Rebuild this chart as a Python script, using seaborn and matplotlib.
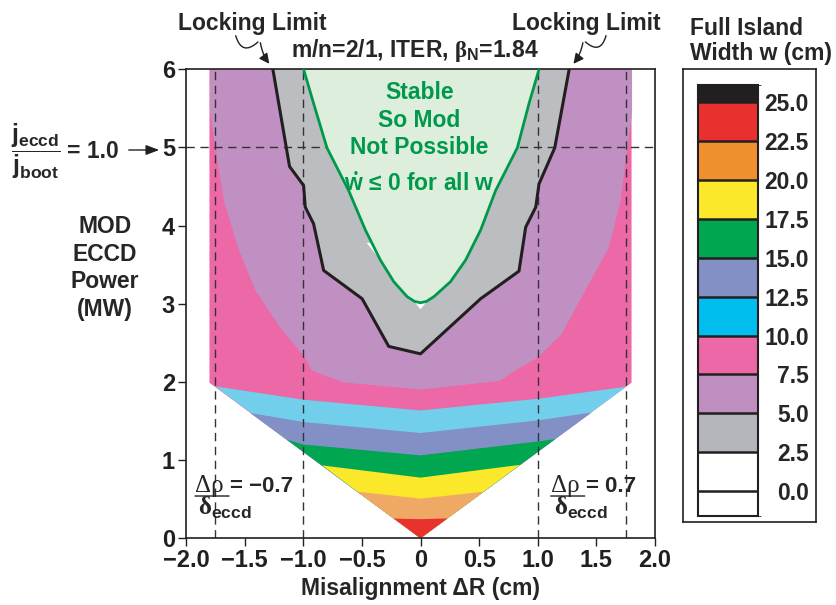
import matplotlib
matplotlib.use("Agg")
import matplotlib.pyplot as plt
import matplotlib.colors as mcolors
import seaborn as sns

# ---- data ----
# V-shaped region (w > 7.5 cm) outer corners and apex
pink_x = [-1.80, -1.80, 0.0, 1.80, 1.80]
pink_y = [6.0, 1.99, 0.0, 1.99, 6.0]

# upper edge of each band inside the V (left edge -> centre -> right edge)
cyan_x = [-1.752, -1.0, 0.0, 1.01, 1.755]
cyan_y = [1.944, 1.773, 1.635, 1.786, 1.940]
blue_x = [-1.453, -1.0, 0.0, 1.01, 1.46]
blue_y = [1.603, 1.488, 1.347, 1.51, 1.61]
green_x = [-1.14, -1.0, 0.0, 1.01, 1.15]
green_y = [1.262, 1.20, 1.061, 1.24, 1.27]
yellow_x = [-0.84, 0.0, 0.85]
yellow_y = [0.933, 0.776, 0.94]
orange_x = [-0.541, 0.0, 0.54]
orange_y = [0.597, 0.507, 0.597]
red_x = [-0.228, 0.0, 0.23]
red_y = [0.252, 0.245, 0.254]

# lower edge of the 5-7.5 cm (purple) zone
purple_x = [-1.80, -1.74, -1.68, -1.56, -1.41, -1.20, -1.0, -0.93, -0.66, 0.0,
            0.67, 0.80, 1.0, 1.20, 1.33, 1.60, 1.70, 1.80]
purple_y = [5.45, 4.88, 4.32, 3.72, 3.17, 2.70, 2.34, 2.15, 2.0, 1.91,
            2.02, 2.15, 2.32, 2.62, 2.98, 3.72, 4.30, 5.45]

# locking limit (black line)
lock_x = [-1.259, -1.117, -0.997, -0.983, -0.912, -0.826, -0.498, -0.271, 0.0,
          0.513, 0.840, 0.897, 0.983, 1.011, 1.145, 1.268]
lock_y = [6.0, 4.757, 4.514, 4.237, 4.024, 3.427, 3.065, 2.455, 2.36,
          3.065, 3.418, 3.98, 4.237, 4.535, 4.996, 6.0]

# stable boundary (green line)
stab_x = [-0.997, -0.912, -0.798, -0.613, -0.470, -0.342, -0.228, -0.114, -0.05, 0.0,
          0.05, 0.114, 0.256, 0.385, 0.513, 0.641, 0.826, 0.926, 1.011]
stab_y = [6.0, 5.565, 4.996, 4.45, 3.944, 3.56, 3.283, 3.091, 3.03, 3.014,
          3.03, 3.091, 3.283, 3.56, 3.944, 4.45, 4.996, 5.565, 6.0]

# thin w < 2.5 cm sliver just under the stable region
white_x = [-0.46, 0.0, 0.47]
white_y = [3.78, 2.93, 3.78]

dash_x = [-1.75, -1.0, 1.0, 1.75]
dash_y = 5.0

xticks = [-2.0, -1.5, -1.0, -0.5, 0.0, 0.5, 1.0, 1.5, 2.0]
xtick_labels = ["\u22122.0", "\u22121.5", "\u22121.0", "\u22120.5", "0", "0.5", "1.0", "1.5", "2.0"]
yticks = [0, 1, 2, 3, 4, 5, 6]

cbar_bounds = [-1.6, 0, 2.5, 5, 7.5, 10, 12.5, 15, 17.5, 20, 22.5, 25, 26.1]
cbar_ticks = [0, 2.5, 5, 7.5, 10, 12.5, 15, 17.5, 20, 22.5, 25]
cbar_colors = ["#ffffff", "#ffffff", "#b3b6bb", "#bf8fbf", "#ec68a6", "#00bfee",
               "#8290c6", "#00a650", "#fce82a", "#ef9030", "#e8302e", "#231f20"]

# ---- style ----
sns.set_style("ticks")
plt.rcParams["font.family"] = ["Liberation Sans", "DejaVu Sans"]
plt.rcParams["font.weight"] = "bold"
plt.rcParams["mathtext.fontset"] = "custom"
plt.rcParams["mathtext.rm"] = "Liberation Serif"
plt.rcParams["mathtext.it"] = "Liberation Sans:bold"
plt.rcParams["mathtext.bf"] = "Liberation Sans:bold"
plt.rcParams["mathtext.sf"] = "Liberation Sans"

W, H = 836, 605
ink = "#231f20"
fig = plt.figure(figsize=(W / 100, H / 100), dpi=100)
ax = fig.add_axes([186 / W, 1 - 538.3 / H, 469 / W, 469 / H])

# filled zones, painted from the outside in
ax.fill(pink_x, pink_y, color="#ec68a6", lw=0, zorder=1)
ax.fill_between(purple_x, purple_y, 6, color="#c090c2", lw=0, zorder=1)
ax.fill(lock_x, lock_y, color="#bcbdc1", lw=0, zorder=1)
ax.fill(white_x, white_y, color="white", lw=0, zorder=1)

bands = [(cyan_x, cyan_y, "#72cfec"), (blue_x, blue_y, "#8290c6"),
         (green_x, green_y, "#00a650"), (yellow_x, yellow_y, "#fce82a"),
         (orange_x, orange_y, "#f0a865"), (red_x, red_y, "#e8322e")]
for bx, by, c in bands:
    ax.fill(bx + [0.0], by + [0.0], color=c, lw=0, zorder=1)

for xv in dash_x:
    ax.axvline(xv, color="#333333", lw=1, ls=(0, (6, 4)), zorder=2)
ax.axhline(dash_y, color="#333333", lw=1, ls=(0, (6, 4)), zorder=2)

ax.fill(stab_x, stab_y, color="#ddeedd", lw=0, zorder=2.5)
sns.lineplot(x=stab_x, y=stab_y, sort=False, estimator=None, color="#00994c", lw=2, ax=ax, zorder=4)
sns.lineplot(x=lock_x, y=lock_y, sort=False, estimator=None, color=ink, lw=2.2, ax=ax, zorder=4)

ax.set_xlim(-2, 2)
ax.set_ylim(0, 6)
ax.set_xticks(xticks)
ax.set_xticklabels(xtick_labels)
ax.set_yticks(yticks)
ax.tick_params(direction="out", length=6, width=1, labelsize=17, pad=2, colors=ink)
for s in ax.spines.values():
    s.set_linewidth(1.2)
    s.set_color(ink)
ax.set_xlabel("Misalignment \u0394R (cm)", fontsize=16.5, fontweight="bold", labelpad=3)
ax.set_ylabel("")

# texts inside the plot
green_txt = "#00994c"
ax.text(-0.01, 5.35, "Stable\nSo Mod\nNot Possible", ha="center", va="center",
        fontsize=16.5, color=green_txt, linespacing=1.27, zorder=5)
ax.text(-0.01, 4.53, "$\\dot{w}$ \u2264 0 for all w", ha="center", va="center",
        fontsize=16.5, color=green_txt, zorder=5)

# delta-rho / delta_eccd labels: numerator, bar, denominator, value
for x0, val in [(-1.923, "= \u22120.7"), (1.111, "= 0.7")]:
    ax.text(x0, 0.592, "\u0394\u03c1", ha="left", va="baseline", fontsize=18,
            fontfamily="Liberation Serif", fontweight="normal", zorder=5)
    ax.annotate("", xy=(x0, 0.541), xytext=(x0 + 0.29, 0.541),
                arrowprops=dict(arrowstyle="-", lw=1, color=ink, shrinkA=0, shrinkB=0), zorder=5)
    ax.text(x0 + 0.025, 0.30, r"$\mathrm{\delta}_{eccd}$", ha="left", va="baseline",
            fontsize=18, zorder=5)
    ax.text(x0 + 0.30, 0.592, val, ha="left", va="baseline", fontsize=16, zorder=5)


def fp(px, py):
    return (px / W, 1 - py / H)


fig.text(*fp(415, 56.7), r"m/n=2/1, ITER, $\mathrm{\beta}_{N}$=1.84", ha="center",
         va="baseline", fontsize=16.5)
fig.text(*fp(252.5, 30), "Locking Limit", ha="center", va="baseline", fontsize=16.5)
fig.text(*fp(586.7, 30), "Locking Limit", ha="center", va="baseline", fontsize=16.5)

# squiggly arrows to the locking limit
for start, mid, tip, r1, r2 in [((235, 33), (260, 40), (271, 66), 0.9, 0.15),
                                ((606.7, 33), (583.3, 40), (571.7, 66), -0.9, -0.15)]:
    fig.add_artist(matplotlib.patches.FancyArrowPatch(
        fp(*start), fp(*mid), transform=fig.transFigure, arrowstyle="-",
        connectionstyle=f"arc3,rad={r1}", lw=1, color=ink))
    fig.add_artist(matplotlib.patches.FancyArrowPatch(
        fp(*mid), fp(*tip), transform=fig.transFigure,
        arrowstyle="-|>,head_length=6,head_width=3", mutation_scale=1,
        connectionstyle=f"arc3,rad={r2}", lw=1, color=ink))

fig.text(*fp(105, 268), "MOD\nECCD\nPower\n(MW)", ha="center", va="center",
         fontsize=16.5, linespacing=1.25)
fig.text(*fp(11, 151), r"$\dfrac{j_{eccd}}{j_{boot}}$", ha="left", va="center", fontsize=18)
fig.text(*fp(67, 151), "= 1.0", ha="left", va="center", fontsize=16.5)
fig.add_artist(matplotlib.patches.FancyArrowPatch(
    fp(126, 150), fp(162, 150), transform=fig.transFigure,
    arrowstyle="-|>,head_length=8,head_width=3", mutation_scale=1, lw=1, color=ink))

# colour bar with framed box
frame = fig.add_axes([682.7 / W, 1 - 521.7 / H, 133.3 / W, 452.4 / H])
frame.set_xticks([])
frame.set_yticks([])
for s in frame.spines.values():
    s.set_linewidth(1.2)
    s.set_color(ink)
fig.text(*fp(690, 17), "Full Island\nWidth w (cm)", ha="left", va="top",
         fontsize=16.5, linespacing=1.1)

cax = fig.add_axes([698.3 / W, 1 - 516 / H, 60 / W, 431 / H])
cmap = mcolors.ListedColormap(cbar_colors)
norm = mcolors.BoundaryNorm(cbar_bounds, cmap.N)
sm = matplotlib.cm.ScalarMappable(norm=norm, cmap=cmap)
cb = fig.colorbar(sm, cax=cax, spacing="proportional", drawedges=True, ticks=cbar_ticks)
cb.outline.set_linewidth(1.5)
cb.outline.set_color(ink)
cb.dividers.set_color(ink)
cb.dividers.set_linewidth(1.8)
cb.ax.set_yticklabels([f"{t:.1f}" for t in cbar_ticks])
cb.ax.tick_params(length=0, pad=36.5, labelsize=16.5)
for t in cb.ax.get_yticklabels():
    t.set_ha("right")
    t.set_fontweight("bold")

fig.savefig("out.png", dpi=100)
